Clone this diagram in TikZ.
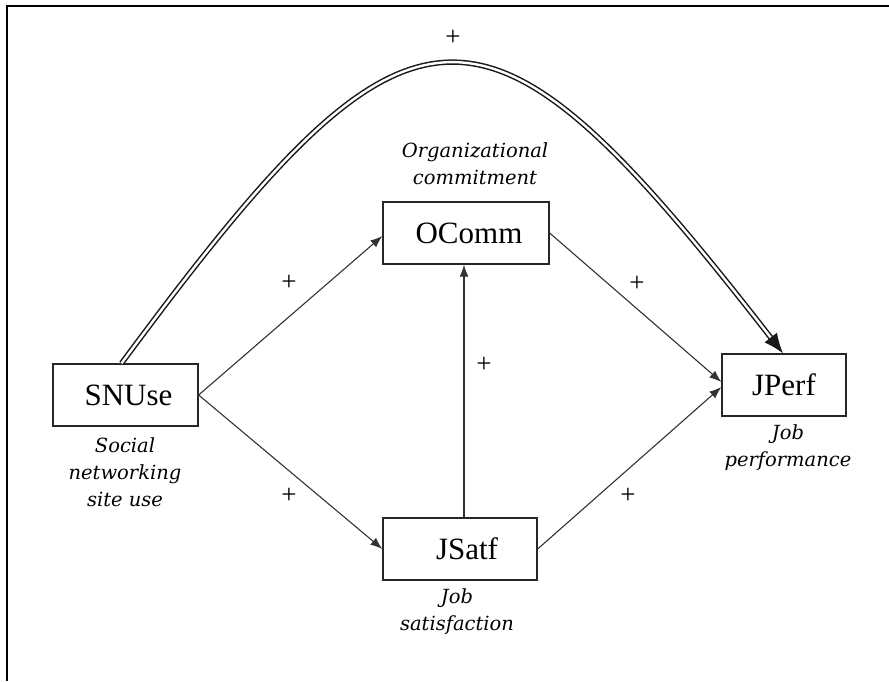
\documentclass[tikz,border=0pt]{standalone}
\usepackage{fontspec}
\setmainfont{Liberation Serif}
\newfontfamily\labelfont{DejaVu Serif}
\usetikzlibrary{arrows.meta}

\begin{document}
\begin{tikzpicture}[x=1pt, y=-1pt,
  box/.style={draw=black!85, line width=1.3pt, minimum height=62pt, inner sep=0pt,
    font=\fontsize{31}{31}\selectfont},
  desc/.style={align=center, inner sep=0pt,
    font=\labelfont\itshape\fontsize{19.5}{27}\selectfont},
  conn/.style={draw=black!80, line width=1.1pt, -{Latex[length=12pt,width=9pt]}},
  sign/.style={inner sep=0pt, font=\fontsize{27}{27}\selectfont}]
\useasboundingbox (0,0) rectangle (889,681);

% outer frame (top and left edges)
\draw[line width=1.8pt] (7,681) -- (7,6) -- (889,6);

% constructs
\node[box, minimum width=145pt] (snuse) at (125.5,395) {\hspace*{6pt}SNUse};
\node[box, minimum width=166pt] (ocomm) at (466,233) {\hspace*{6pt}OComm};
\node[box, minimum width=154pt] (jsatf) at (460,549) {\hspace*{14pt}JSatf};
\node[box, minimum width=124pt] (jperf) at (784,385) {JPerf};

% descriptions
\node[desc] (snlab) at (125,472) {Social\\networking\\site use};
\node[desc] (oclab) at (475,164) {Organizational\\commitment};
\node[desc] (jslab) at (457,612) {Job\\satisfaction};
\node[desc] (jplab) at (788,448) {Job\\performance};

% paths
\draw[conn] (snuse.east) -- ([yshift=-3pt]ocomm.west);
\draw[conn] (snuse.east) -- (jsatf.west);
\draw[conn] ([xshift=4pt]jsatf.north) -- ([xshift=-2pt]ocomm.south);
\draw[conn] (ocomm.east) -- ([yshift=3pt]jperf.west);
\draw[conn] (jsatf.east) -- ([yshift=-2pt]jperf.west);
\draw[black!90, line width=1.5pt, double, double distance=2.4pt,
      -{Latex[length=20pt,width=16pt]}]
  ([xshift=-4pt]snuse.north) .. controls (415,-34) and (482,-34) .. ([xshift=-1pt]jperf.north);

% signs
\node[sign] (s0) at (453,38) {+};
\node[sign] (s1) at (289,283) {+};
\node[sign] (s2) at (289,496) {+};
\node[sign] (s3) at (484,365) {+};
\node[sign] (s4) at (637,284) {+};
\node[sign] (s5) at (628,496) {+};
\end{tikzpicture}
\end{document}
